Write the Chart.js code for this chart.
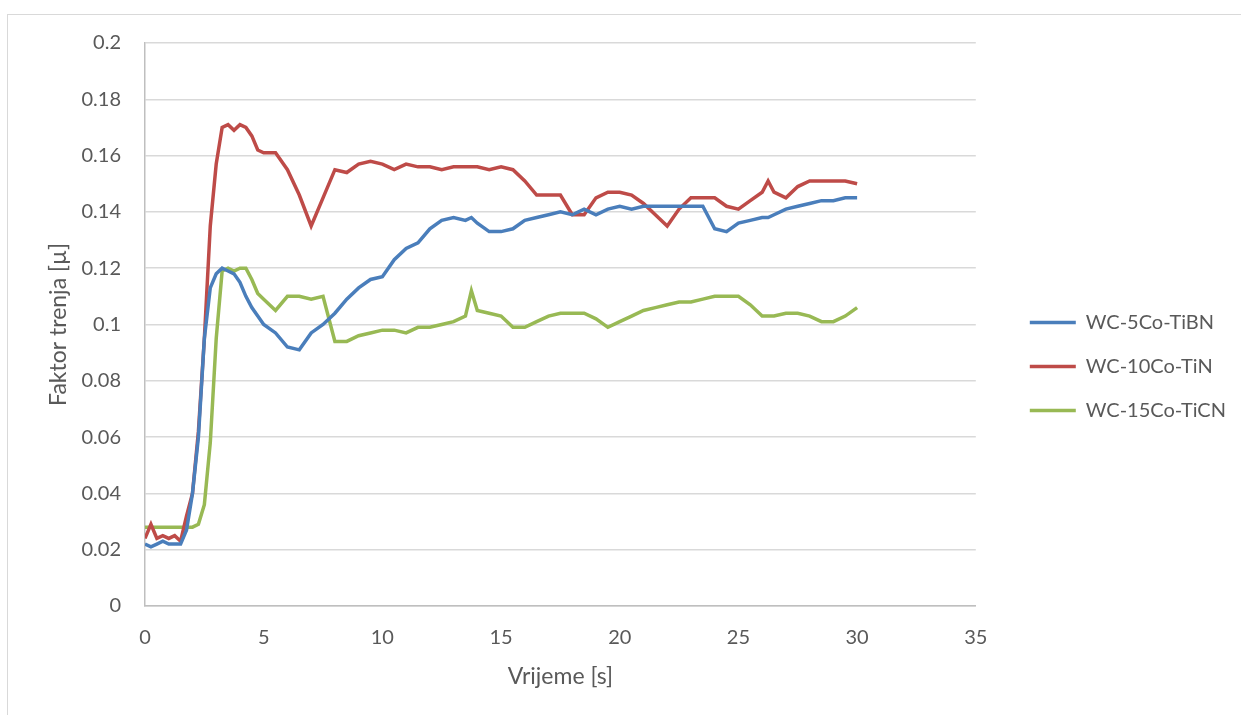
<!DOCTYPE html>
<html>
<head>
<meta charset="utf-8">
<script src="https://cdn.jsdelivr.net/npm/chart.js@4/dist/chart.umd.min.js"></script>
<style>
  html, body { margin: 0; padding: 0; background: #fff; overflow: hidden; }
  #frame { position: absolute; left: 7px; top: 14px; width: 1300px; height: 800px;
           border: 1px solid #d9d9d9; }
  #wrap { position: absolute; left: 0; top: 0; width: 1241px; height: 715px; }
</style>
</head>
<body>
<div id="frame"></div>
<div id="wrap"><canvas id="mycanvas"></canvas></div>
<script>
// time [s]
var vrijeme = [0, 0.25, 0.5, 0.75, 1, 1.25, 1.5, 1.75, 2, 2.25, 2.5, 2.75, 3, 3.25, 3.5, 3.75, 4, 4.25, 4.5, 4.75, 5,
  5.5, 6, 6.5, 7, 7.5, 8, 8.5, 9, 9.5, 10, 10.5, 11, 11.5, 12, 12.5, 13, 13.5, 13.75, 14, 14.5, 15,
  15.5, 16, 16.5, 17, 17.5, 18, 18.5, 19, 19.5, 20, 20.5, 21, 21.5, 22, 22.5, 23, 23.5, 24, 24.5, 25,
  25.5, 26, 26.25, 26.5, 27, 27.5, 28, 28.5, 29, 29.5, 30];

var tiBN = [0.022, 0.021, 0.022, 0.023, 0.022, 0.022, 0.022, 0.027, 0.040, 0.060, 0.095, 0.113, 0.118, 0.120, 0.119, 0.118, 0.115, 0.110, 0.106, 0.103, 0.100,
  0.097, 0.092, 0.091, 0.097, 0.100, 0.104, 0.109, 0.113, 0.116, 0.117, 0.123, 0.127, 0.129, 0.134, 0.137, 0.138, 0.137, 0.138, 0.136, 0.133, 0.133,
  0.134, 0.137, 0.138, 0.139, 0.140, 0.139, 0.141, 0.139, 0.141, 0.142, 0.141, 0.142, 0.142, 0.142, 0.142, 0.142, 0.142, 0.134, 0.133, 0.136,
  0.137, 0.138, 0.138, 0.139, 0.141, 0.142, 0.143, 0.144, 0.144, 0.145, 0.145];

var tiN = [0.024, 0.029, 0.024, 0.025, 0.024, 0.025, 0.023, 0.032, 0.040, 0.062, 0.095, 0.135, 0.157, 0.170, 0.171, 0.169, 0.171, 0.170, 0.167, 0.162, 0.161,
  0.161, 0.155, 0.146, 0.135, 0.145, 0.155, 0.154, 0.157, 0.158, 0.157, 0.155, 0.157, 0.156, 0.156, 0.155, 0.156, 0.156, 0.156, 0.156, 0.155, 0.156,
  0.155, 0.151, 0.146, 0.146, 0.146, 0.139, 0.139, 0.145, 0.147, 0.147, 0.146, 0.143, 0.139, 0.135, 0.141, 0.145, 0.145, 0.145, 0.142, 0.141,
  0.144, 0.147, 0.151, 0.147, 0.145, 0.149, 0.151, 0.151, 0.151, 0.151, 0.150];

var tiCN = [0.028, 0.028, 0.028, 0.028, 0.028, 0.028, 0.028, 0.028, 0.028, 0.029, 0.036, 0.058, 0.095, 0.119, 0.120, 0.119, 0.120, 0.120, 0.116, 0.111, 0.109,
  0.105, 0.110, 0.110, 0.109, 0.110, 0.094, 0.094, 0.096, 0.097, 0.098, 0.098, 0.097, 0.099, 0.099, 0.100, 0.101, 0.103, 0.112, 0.105, 0.104, 0.103,
  0.099, 0.099, 0.101, 0.103, 0.104, 0.104, 0.104, 0.102, 0.099, 0.101, 0.103, 0.105, 0.106, 0.107, 0.108, 0.108, 0.109, 0.110, 0.110, 0.110,
  0.107, 0.103, 0.103, 0.103, 0.104, 0.104, 0.103, 0.101, 0.101, 0.103, 0.106];

var names = ['WC-5Co-TiBN', 'WC-10Co-TiN', 'WC-15Co-TiCN'];
var colors = ['#4a7ebb', '#be4b48', '#98b954'];

function pts(arr) {
  return arr.map(function (v, i) { return { x: vrijeme[i], y: v }; });
}

var gray = '#595959';
var fontFam = 'Lato, "Liberation Sans", sans-serif';

var ctx = document.getElementById('mycanvas');

var chart = new Chart(ctx, {
  type: 'line',
  data: {
    datasets: [tiBN, tiN, tiCN].map(function (s, i) {
      return {
        label: names[i],
        data: pts(s),
        borderColor: colors[i],
        backgroundColor: colors[i],
        borderWidth: 3.5,
        pointRadius: 0,
        tension: 0,
        fill: false
      };
    })
  },
  options: {
    responsive: true,
    maintainAspectRatio: false,
    animation: false,
    layout: { padding: { top: 43, left: 45, right: 5, bottom: 25 } },
    plugins: {
      tooltip: { enabled: false },
      legend: {
        position: 'right',
        maxWidth: 260,
        labels: {
          usePointStyle: true,
          pointStyle: 'line',
          pointStyleWidth: 46,
          color: gray,
          font: { family: fontFam, size: 20 },
          padding: 24
        }
      }
    },
    scales: {
      x: {
        type: 'linear',
        min: 0, max: 35,
        grid: { display: false, drawTicks: false },
        border: { color: '#bfbfbf', width: 1.5 },
        ticks: { stepSize: 5, color: gray, font: { family: fontFam, size: 20 }, padding: 20 },
        title: { display: true, text: 'Vrijeme [s]', color: gray, font: { family: fontFam, size: 23 }, padding: 0 },
        afterFit: function (s) { s.height = 84; }
      },
      y: {
        min: 0, max: 0.2,
        grid: { color: '#d9d9d9', lineWidth: 1.5, drawTicks: false },
        border: { color: '#bfbfbf', width: 1.5 },
        ticks: {
          stepSize: 0.02, color: gray, font: { family: fontFam, size: 20 }, padding: 24,
          callback: function (v) { return String(+v.toFixed(2)); }
        },
        title: { display: true, text: 'Faktor trenja [µ]', color: gray, font: { family: fontFam, size: 23 }, padding: 0 },
        afterFit: function (s) { s.width = 100; }
      },
      // empty spacer between plot and legend
      gap: {
        position: 'right',
        min: 0, max: 1,
        grid: { display: false },
        border: { display: false },
        ticks: { display: false },
        afterFit: function (s) { s.width = 30; }
      }
    }
  }
});
</script>
</body>
</html>
